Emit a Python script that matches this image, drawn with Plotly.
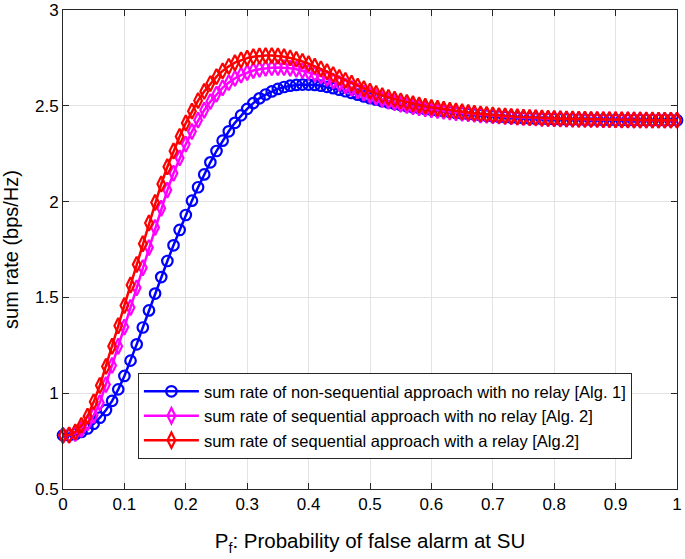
import plotly.graph_objects as go

pf = [round(i * 0.01, 2) for i in range(101)]

rate_nonseq_norelay = [
    0.780, 0.780, 0.786, 0.798, 0.816, 0.840, 0.872, 0.912, 0.960, 1.020,
    1.090, 1.170, 1.255, 1.343, 1.432, 1.520, 1.606, 1.690, 1.772, 1.852,
    1.930, 2.005, 2.075, 2.142, 2.205, 2.264, 2.318, 2.367, 2.411, 2.450,
    2.484, 2.514, 2.539, 2.559, 2.575, 2.588, 2.598, 2.605, 2.609, 2.611,
    2.611, 2.609, 2.605, 2.599, 2.592, 2.584, 2.576, 2.567, 2.558, 2.549,
    2.540, 2.532, 2.524, 2.517, 2.510, 2.504, 2.498, 2.493, 2.488, 2.483,
    2.479, 2.475, 2.471, 2.467, 2.463, 2.460, 2.457, 2.454, 2.451, 2.448,
    2.445, 2.443, 2.441, 2.439, 2.437, 2.435, 2.434, 2.433, 2.432, 2.431,
    2.430, 2.429, 2.429, 2.428, 2.428, 2.427, 2.427, 2.427, 2.426, 2.426,
    2.426, 2.425, 2.425, 2.425, 2.425, 2.425, 2.425, 2.425, 2.425, 2.425,
    2.425,
]

rate_seq_norelay = [
    0.780, 0.781, 0.790, 0.812, 0.845, 0.885, 0.950, 1.045, 1.145, 1.245,
    1.345, 1.447, 1.550, 1.655, 1.760, 1.865, 1.965, 2.060, 2.148, 2.228,
    2.300, 2.366, 2.425, 2.477, 2.522, 2.561, 2.594, 2.621, 2.643, 2.660,
    2.674, 2.684, 2.691, 2.696, 2.699, 2.700, 2.699, 2.696, 2.691, 2.684,
    2.676, 2.666, 2.655, 2.643, 2.630, 2.617, 2.604, 2.591, 2.578, 2.566,
    2.554, 2.543, 2.533, 2.524, 2.516, 2.508, 2.501, 2.495, 2.489, 2.484,
    2.479, 2.475, 2.471, 2.467, 2.464, 2.461, 2.458, 2.455, 2.452, 2.450,
    2.448, 2.446, 2.444, 2.442, 2.440, 2.438, 2.437, 2.436, 2.434, 2.433,
    2.432, 2.431, 2.430, 2.430, 2.429, 2.429, 2.428, 2.428, 2.427, 2.427,
    2.427, 2.426, 2.426, 2.426, 2.426, 2.425, 2.425, 2.425, 2.425, 2.425,
    2.425,
]

rate_seq_relay = [
    0.780, 0.782, 0.798, 0.832, 0.880, 0.955, 1.040, 1.140, 1.245, 1.352,
    1.458, 1.565, 1.672, 1.780, 1.888, 1.995, 2.092, 2.182, 2.264, 2.340,
    2.410, 2.472, 2.527, 2.575, 2.616, 2.652, 2.682, 2.706, 2.725, 2.739,
    2.749, 2.756, 2.760, 2.762, 2.762, 2.760, 2.756, 2.750, 2.742, 2.732,
    2.720, 2.707, 2.693, 2.678, 2.663, 2.648, 2.633, 2.618, 2.603, 2.589,
    2.576, 2.564, 2.553, 2.543, 2.534, 2.526, 2.518, 2.511, 2.504, 2.498,
    2.492, 2.487, 2.482, 2.477, 2.473, 2.469, 2.465, 2.461, 2.458, 2.455,
    2.452, 2.449, 2.447, 2.445, 2.443, 2.441, 2.439, 2.438, 2.436, 2.435,
    2.434, 2.433, 2.432, 2.431, 2.430, 2.430, 2.429, 2.429, 2.428, 2.428,
    2.427, 2.427, 2.427, 2.426, 2.426, 2.426, 2.426, 2.425, 2.425, 2.425,
    2.425,
]

names = [
    "sum rate of non-sequential approach with no relay [Alg. 1]",
    "sum rate of sequential approach with no relay [Alg. 2]",
    "sum rate of sequential approach with a relay [Alg.2]",
]

FONT = "Liberation Sans, Arial, Helvetica, sans-serif"

fig = go.Figure()
fig.add_trace(go.Scatter(
    x=pf, y=rate_nonseq_norelay, name=names[0], mode="lines+markers",
    line=dict(color="#0000ff", width=2.5),
    marker=dict(symbol="circle-open", size=10.5, color="#0000ff", line=dict(width=2.2)),
    cliponaxis=False,
))
fig.add_trace(go.Scatter(
    x=pf, y=rate_seq_norelay, name=names[1], mode="lines+markers",
    line=dict(color="#ff00ff", width=2.5),
    marker=dict(symbol="diamond-tall-open", size=11, color="#ff00ff", line=dict(width=2.2)),
    cliponaxis=False,
))
fig.add_trace(go.Scatter(
    x=pf, y=rate_seq_relay, name=names[2], mode="lines+markers",
    line=dict(color="#ff0000", width=2.5),
    marker=dict(symbol="diamond-tall-open", size=11, color="#ff0000", line=dict(width=2.2)),
    cliponaxis=False,
))

axis_common = dict(
    showgrid=True, gridcolor="#e3e3e3", gridwidth=1,
    showline=True, linecolor="#262626", linewidth=1, mirror="ticks",
    ticks="inside", ticklen=6, tickcolor="#262626",
    zeroline=False, automargin=False, ticklabeloverflow="allow",
    tickfont=dict(family=FONT, size=17, color="#000000"),
)

fig.update_layout(
    width=685, height=559,
    margin=dict(l=63, r=8, t=10, b=70),
    paper_bgcolor="white", plot_bgcolor="white",
    font=dict(family=FONT, color="#000000"),
    xaxis=dict(range=[0, 1], dtick=0.1, tick0=0,
               title=dict(text="P<sub>f</sub>: Probability of false alarm at SU",
                          font=dict(family=FONT, size=20.5), standoff=20),
               **axis_common),
    yaxis=dict(range=[0.5, 3], dtick=0.5, tick0=0.5,
               title=dict(text="sum rate (bps/Hz)", font=dict(family=FONT, size=20), standoff=13),
               **axis_common),
    legend=dict(x=0.122, y=0.242, xanchor="left", yanchor="top",
                bgcolor="white", bordercolor="#262626", borderwidth=1,
                font=dict(family=FONT, size=16.5, color="#000000"),
                itemwidth=55, tracegroupgap=0),
    showlegend=True,
)

fig.write_html("out.html", config={"displayModeBar": False},
               post_script="document.body.style.margin='0';")
